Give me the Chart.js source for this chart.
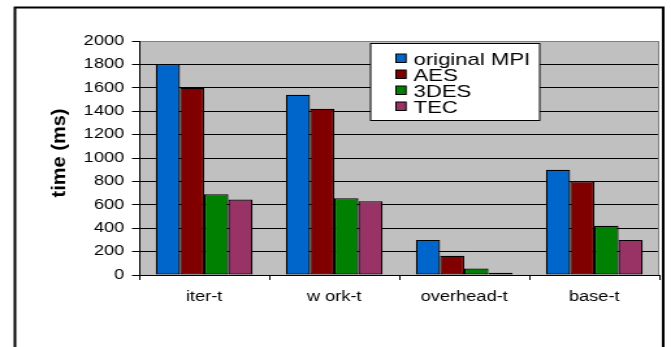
<!DOCTYPE html>
<html>
<head>
<meta charset="utf-8">
<script src="https://cdn.jsdelivr.net/npm/chart.js@4/dist/chart.umd.min.js"></script>
<style>
  html, body { margin: 0; padding: 0; background: #fff; overflow: hidden; }
  /* the chart is laid out narrow and widened, giving the broad lettering of the figure */
  #wrap { position: absolute; left: 0; top: 0; width: 516px; height: 347px;
          transform: scaleX(1.3004); transform-origin: 0 0; }
</style>
</head>
<body>
<div id="wrap"><canvas id="c"></canvas></div>
<script>
// ---- data ----
const categories = ['iter-t', 'w ork-t', 'overhead-t', 'base-t'];
const seriesNames = ['original MPI', 'AES', '3DES', 'TEC'];
const originalMPI = [1800, 1540, 300, 900];
const aes = [1600, 1420, 165, 800];
const des3 = [690, 655, 55, 420];
const tec = [645, 630, 20, 300];
const yTicks = [0, 200, 400, 600, 800, 1000, 1200, 1400, 1600, 1800, 2000];
const yTitle = 'time (ms)';

const STRETCH = 1.3004;
const colors = ['#0066CC', '#800000', '#008000', '#993366'];
const FONT = "'Liberation Sans', Arial, Helvetica, sans-serif";
Chart.defaults.font.family = FONT;
Chart.defaults.color = '#000';

const seriesValues = [originalMPI, aes, des3, tec];

// plot background, legend box, axis title and outer frame
const decor = {
  id: 'decor',
  beforeDraw(chart) {
    const { ctx, chartArea: a } = chart;
    ctx.save();
    ctx.fillStyle = '#ffffff';
    ctx.fillRect(0, 0, chart.width, chart.height);
    ctx.fillStyle = '#C0C0C0';
    ctx.fillRect(a.left, a.top, a.right - a.left, a.bottom - a.top);
    ctx.restore();
  },
  afterDraw(chart) {
    const { ctx, chartArea: a } = chart;
    ctx.save();
    // right edge of the plot area
    ctx.strokeStyle = '#808080';
    ctx.lineWidth = 1;
    ctx.beginPath();
    ctx.moveTo(a.right - 0.5, a.top);
    ctx.lineTo(a.right - 0.5, a.bottom);
    ctx.stroke();

    // legend
    const bx = 285, by = 43.5, bw = 130, bh = 77;
    ctx.fillStyle = '#ffffff';
    ctx.fillRect(bx, by, bw, bh);
    ctx.strokeStyle = '#000';
    ctx.lineWidth = 1;
    ctx.strokeRect(bx, by, bw, bh);
    ctx.font = '17px ' + FONT;
    ctx.textAlign = 'left';
    ctx.textBaseline = 'alphabetic';
    chart.data.datasets.forEach((ds, i) => {
      const my = 54 + 16 * i;
      ctx.fillStyle = ds.backgroundColor;
      ctx.fillRect(304.5, my, 7.7, 8.5);
      ctx.strokeStyle = '#000';
      ctx.strokeRect(304.5, my, 7.7, 8.5);
      ctx.fillStyle = '#000';
      ctx.fillText(ds.label, 318, 65 + 16 * i);
    });

    // y axis title, kept at natural proportions
    ctx.save();
    ctx.translate(59 / STRETCH, 153);
    ctx.scale(1 / STRETCH, 1);
    ctx.rotate(-Math.PI / 2);
    ctx.font = 'bold 20px ' + FONT;
    ctx.textAlign = 'center';
    ctx.textBaseline = 'middle';
    ctx.fillStyle = '#000';
    ctx.fillText(yTitle, 0, 0);
    ctx.restore();

    // outer frame (open at the bottom)
    ctx.strokeStyle = '#000';
    ctx.lineWidth = 2;
    ctx.beginPath();
    ctx.moveTo(11.5, chart.height + 5);
    ctx.lineTo(11.5, 7.5);
    ctx.lineTo(510, 7.5);
    ctx.lineTo(510, chart.height + 5);
    ctx.stroke();
    ctx.restore();
  }
};

new Chart(document.getElementById('c'), {
  type: 'bar',
  data: {
    labels: categories,
    datasets: seriesNames.map((name, i) => ({
      label: name,
      data: seriesValues[i],
      backgroundColor: colors[i],
      borderColor: '#000',
      borderWidth: 1.2,
      borderSkipped: false,
      barPercentage: 1,
      categoryPercentage: 0.744
    }))
  },
  options: {
    responsive: true,
    maintainAspectRatio: false,
    animation: false,
    devicePixelRatio: 1,
    layout: { padding: { top: 41, right: 9, left: 0, bottom: 0 } },
    plugins: { legend: { display: false }, tooltip: { enabled: false } },
    scales: {
      x: {
        grid: { offset: true, drawOnChartArea: false, color: '#000', tickLength: 5 },
        border: { color: '#000', width: 1 },
        ticks: { color: '#000', font: { size: 14 }, padding: 9, maxRotation: 0, autoSkip: false },
        afterFit(s) { s.height = 72; }
      },
      y: {
        min: yTicks[0],
        max: yTicks[yTicks.length - 1],
        afterBuildTicks(s) { s.ticks = yTicks.map(v => ({ value: v })); },
        ticks: { color: '#000', font: { size: 14 }, padding: 6, callback: v => String(v) },
        grid: {
          color: c => (c.tick && c.tick.value === 2000 ? '#808080' : '#000'),
          tickColor: '#000',
          tickLength: 5.5
        },
        border: { color: '#000', width: 1 },
        afterFit(s) { s.width = 107; }
      }
    }
  },
  plugins: [decor]
});
</script>
</body>
</html>
